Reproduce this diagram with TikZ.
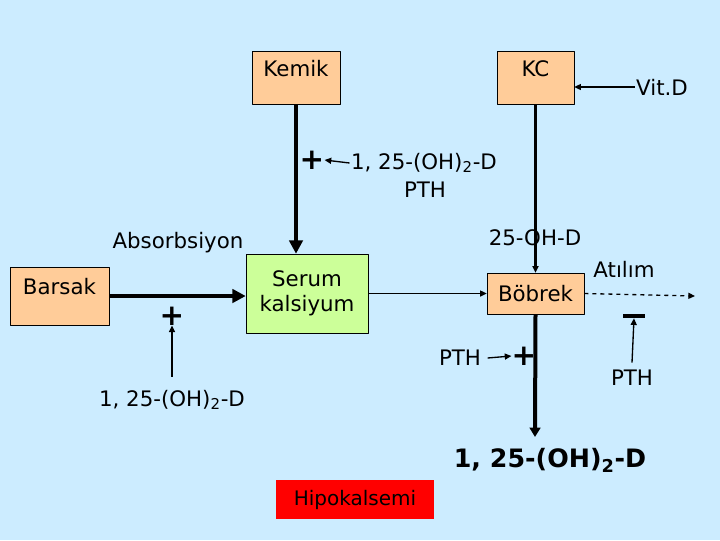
\documentclass[tikz,border=0pt]{standalone}
\usepackage{fontspec}
\setmainfont{DejaVu Sans}
\usetikzlibrary{arrows.meta}
\definecolor{bgblue}{RGB}{204,236,255}
\definecolor{boxorange}{RGB}{255,204,153}
\definecolor{boxgreen}{RGB}{204,255,153}
\definecolor{alarmred}{RGB}{255,0,0}
\tikzset{
  organ/.style={draw, fill=boxorange, inner sep=0pt, font=\fontsize{16}{19}\selectfont},
  lbl/.style={font=\fontsize{16}{19}\selectfont, inner sep=1pt},
  sign/.style={font=\fontsize{22}{22}\selectfont\bfseries, inner sep=0pt},
  flow/.style={line width=3pt, -{Triangle[length=10pt,width=10pt]}},
  hint/.style={line width=1pt, -{Triangle[length=5pt,width=4.5pt]}}
}
\begin{document}
\begin{tikzpicture}[x=0.75pt, y=-0.75pt, line join=round]
    \fill[bgblue] (0,0) rectangle (720,540);
    \useasboundingbox (0,0) rectangle (720,540);
    % organs
    \node[organ, minimum width=66pt, text height=18.75pt, text depth=21pt] (kemik) at (296,77.5) {Kemik};
    \node[organ, minimum width=57.75pt, text height=18.75pt, text depth=21pt] (kc) at (535.5,77.5) {KC};
    \node[organ, minimum width=74.25pt, text height=20.25pt, text depth=23.25pt] (barsak) at (59.5,296) {Barsak};
    \node[organ, minimum width=72.75pt, minimum height=30.75pt] (bobrek) at (535.5,293.5) {Böbrek};
    \node[organ, fill=boxgreen, minimum width=91.5pt, minimum height=59.25pt, align=center] (serum) at (307,293.5) {Serum\\kalsiyum};
    \node[fill=alarmred, inner sep=0pt, minimum width=118.5pt, minimum height=29.25pt, font=\fontsize{15}{18}\selectfont] (hipo) at (355,499.5) {\textcolor{black}{Hipokalsemi}};
    % labels
    \node[lbl] (vitd) at (662,87) {Vit.D};
    \node[lbl] (calc1) at (424,163) {1, 25-(OH)\textsubscript{2}-D};
    \node[lbl] (pth1) at (425,190) {PTH};
    \node[lbl] (ohd) at (535,238) {25-OH-D};
    \node[lbl] (absorb) at (178,243) {Absorbsiyon};
    \node[lbl] (atilim) at (624,269) {Atılım};
    \node[lbl] (pth2) at (460,358) {PTH};
    \node[lbl] (pth3) at (632,378) {PTH};
    \node[lbl] (calc2) at (172,400) {1, 25-(OH)\textsubscript{2}-D};
    \node[font=\fontsize{19}{22}\selectfont\bfseries] (calc3) at (550,460) {1, 25-(OH)\textsubscript{2}-D};
    \node[sign] (plus1) at (312,160) {+};
    \node[sign] (plus2) at (172,316) {+};
    \node[sign] (plus3) at (524,356) {+};
    \node[fill=black, inner sep=0pt, minimum width=16pt, minimum height=3pt] (minus) at (634,316) {};
    \coordinate (out) at (695,296);
    \coordinate (down) at (535,437);
    % connectors
    \draw[flow] (kemik.south) -- (kemik.south |- serum.north);
    \draw[flow] (barsak.east) -- (barsak.east -| serum.west);
    \draw[hint, line width=1.8pt] (kc.south) -- (bobrek.north);
    \draw[hint] (vitd.west) -- (vitd.west -| kc.east);
    \draw[hint] (serum.east |- bobrek.west) -- (bobrek.west);
    \draw[hint, dashed] (bobrek.east) -- (out);
    \draw[hint, line width=3pt, -{Triangle[length=7pt,width=8pt]}] (bobrek.south) -- (down);
    \draw[hint] (calc1.west) -- (plus1.east);
    \draw[hint] (calc2.north) ++(0,-12) -- (plus2.south);
    \draw[hint] (pth2.east) ++(5,0) -- (plus3.west);
    \draw[hint] (pth3.north) ++(0,-6) -- (minus.south);
  \end{tikzpicture}
\end{document}
